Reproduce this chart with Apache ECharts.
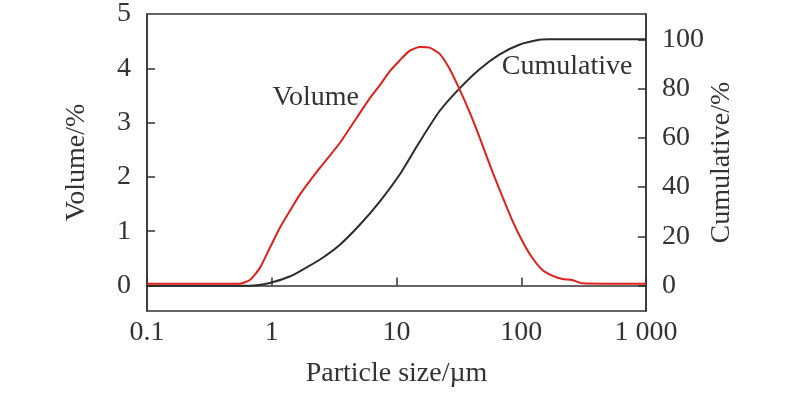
<!DOCTYPE html>
<html>
<head>
<meta charset="utf-8">
<script src="https://cdn.jsdelivr.net/npm/echarts@6/dist/echarts.min.js"></script>
<style>html,body{margin:0;padding:0;background:#fff;}#c{width:800px;height:393px;}</style>
</head>
<body>
<div id="c"></div>
<script>
// Particle size (µm) and volume fraction (%)
const volumeSizes = [0.1, 0.544, 0.667, 0.801, 0.964, 1.159, 1.393, 1.675, 2.42, 3.50, 4.77, 6.08, 7.31, 8.79, 10.57, 12.71, 15.28, 18.37, 22.08, 26.5, 31.9, 38.4, 46.1, 58.6, 70.5, 84.7, 101.9, 122.5, 147.2, 177, 213, 256, 308, 1000];
const volumeValues = [0.03, 0.03, 0.10, 0.32, 0.69, 1.06, 1.37, 1.67, 2.16, 2.62, 3.08, 3.44, 3.68, 3.94, 4.14, 4.32, 4.39, 4.38, 4.27, 4.00, 3.62, 3.20, 2.74, 2.10, 1.64, 1.20, 0.82, 0.51, 0.29, 0.18, 0.12, 0.10, 0.04, 0.03];
// Particle size (µm) and cumulative (%)
const cumSizes = [0.1, 0.461, 0.667, 0.964, 1.393, 1.675, 2.42, 3.50, 5.06, 7.31, 10.57, 15.28, 22.08, 31.9, 46.1, 66.7, 96.4, 139.3, 167.5, 1000];
const cumValues = [0, 0, 0, 1.1, 3.7, 5.8, 10.5, 16.5, 24.6, 34.0, 45.0, 58.3, 70.8, 80.0, 87.8, 93.8, 97.8, 99.8, 100, 100];
// Tick labels
const xTickValues = [0.1, 1, 10, 100, 1000];
const xTickLabels = ['0.1', '1', '10', '100', '1 000'];
const yLeftTicks = [0, 1, 2, 3, 4, 5];
const yRightTicks = [0, 20, 40, 60, 80, 100];

const FONT = 'Liberation Serif';
const FS = 28;
const TXT = '#333';
const chart = echarts.init(document.getElementById('c'));
const hiddenDot = { symbol: 'circle', symbolSize: 1, itemStyle: { color: 'rgba(0,0,0,0)' } };
chart.setOption({
  animation: false,
  grid: { left: 147, right: 154, top: 14, bottom: 80, show: true, borderColor: '#333', borderWidth: 1.5, backgroundColor: 'transparent' },
  xAxis: {
    type: 'log', logBase: 10, min: 0.1, max: 1000,
    name: 'Particle size/µm', nameLocation: 'middle', nameGap: 49,
    nameTextStyle: { fontFamily: FONT, fontSize: FS, color: TXT },
    axisLine: { lineStyle: { color: '#333', width: 1.5 } },
    axisTick: { inside: true, length: 8, lineStyle: { color: '#333', width: 1.5 } },
    minorTick: { show: false },
    splitLine: { show: false },
    axisLabel: {
      fontFamily: FONT, fontSize: FS, color: TXT, margin: 8, showMinLabel: true, showMaxLabel: true,
      formatter: v => { const i = xTickValues.findIndex(t => Math.abs(Math.log10(t) - Math.log10(v)) < 1e-6); return i >= 0 ? xTickLabels[i] : ''; }
    }
  },
  yAxis: [{
    type: 'value', min: -0.47, max: 5, position: 'left',
    name: 'Volume/%', nameLocation: 'middle', nameGap: 56, nameRotate: 90, nameMoveOverlap: false,
    nameTextStyle: { fontFamily: FONT, fontSize: FS, color: TXT },
    axisLine: { show: true, lineStyle: { color: '#333', width: 1.5 } },
    axisTick: { show: true, inside: true, length: 8, customValues: [0, 1, 2, 3, 4], lineStyle: { color: '#333', width: 1.5 } },
    axisLabel: { customValues: yLeftTicks, fontFamily: FONT, fontSize: FS, color: TXT, margin: 16 },
    splitLine: { show: false }
  }, {
    type: 'value', min: -10.3, max: 110.3, position: 'right',
    name: 'Cumulative/%', nameLocation: 'middle', nameGap: 62, nameRotate: 90, nameMoveOverlap: false,
    nameTextStyle: { fontFamily: FONT, fontSize: FS, color: TXT },
    axisLine: { show: true, lineStyle: { color: '#333', width: 1.5 } },
    axisTick: { show: true, inside: true, length: 8, customValues: [0, 20, 40, 60, 80, 100], lineStyle: { color: '#333', width: 1.5 } },
    axisLabel: { customValues: yRightTicks, fontFamily: FONT, fontSize: FS, color: TXT, margin: 16 },
    splitLine: { show: false }
  }],
  series: [{
    name: 'Cumulative', type: 'line', yAxisIndex: 1, smooth: 0.2, showSymbol: false,
    lineStyle: { color: '#2b2b2b', width: 2 },
    data: cumSizes.map((s, i) => [s, cumValues[i]]),
    markPoint: Object.assign({}, hiddenDot, { data: [{ coord: [233, 89], label: { show: true, formatter: 'Cumulative', fontFamily: FONT, fontSize: FS, color: TXT, position: 'inside' } }] })
  }, {
    name: 'Volume', type: 'line', yAxisIndex: 0, smooth: 0.2, showSymbol: false,
    lineStyle: { color: '#e0201b', width: 2 },
    data: volumeSizes.map((s, i) => [s, volumeValues[i]]),
    markPoint: Object.assign({}, hiddenDot, { data: [{ coord: [2.25, 3.46], label: { show: true, formatter: 'Volume', fontFamily: FONT, fontSize: FS, color: TXT, position: 'inside' } }] })
  }]
});
</script>
</body>
</html>
